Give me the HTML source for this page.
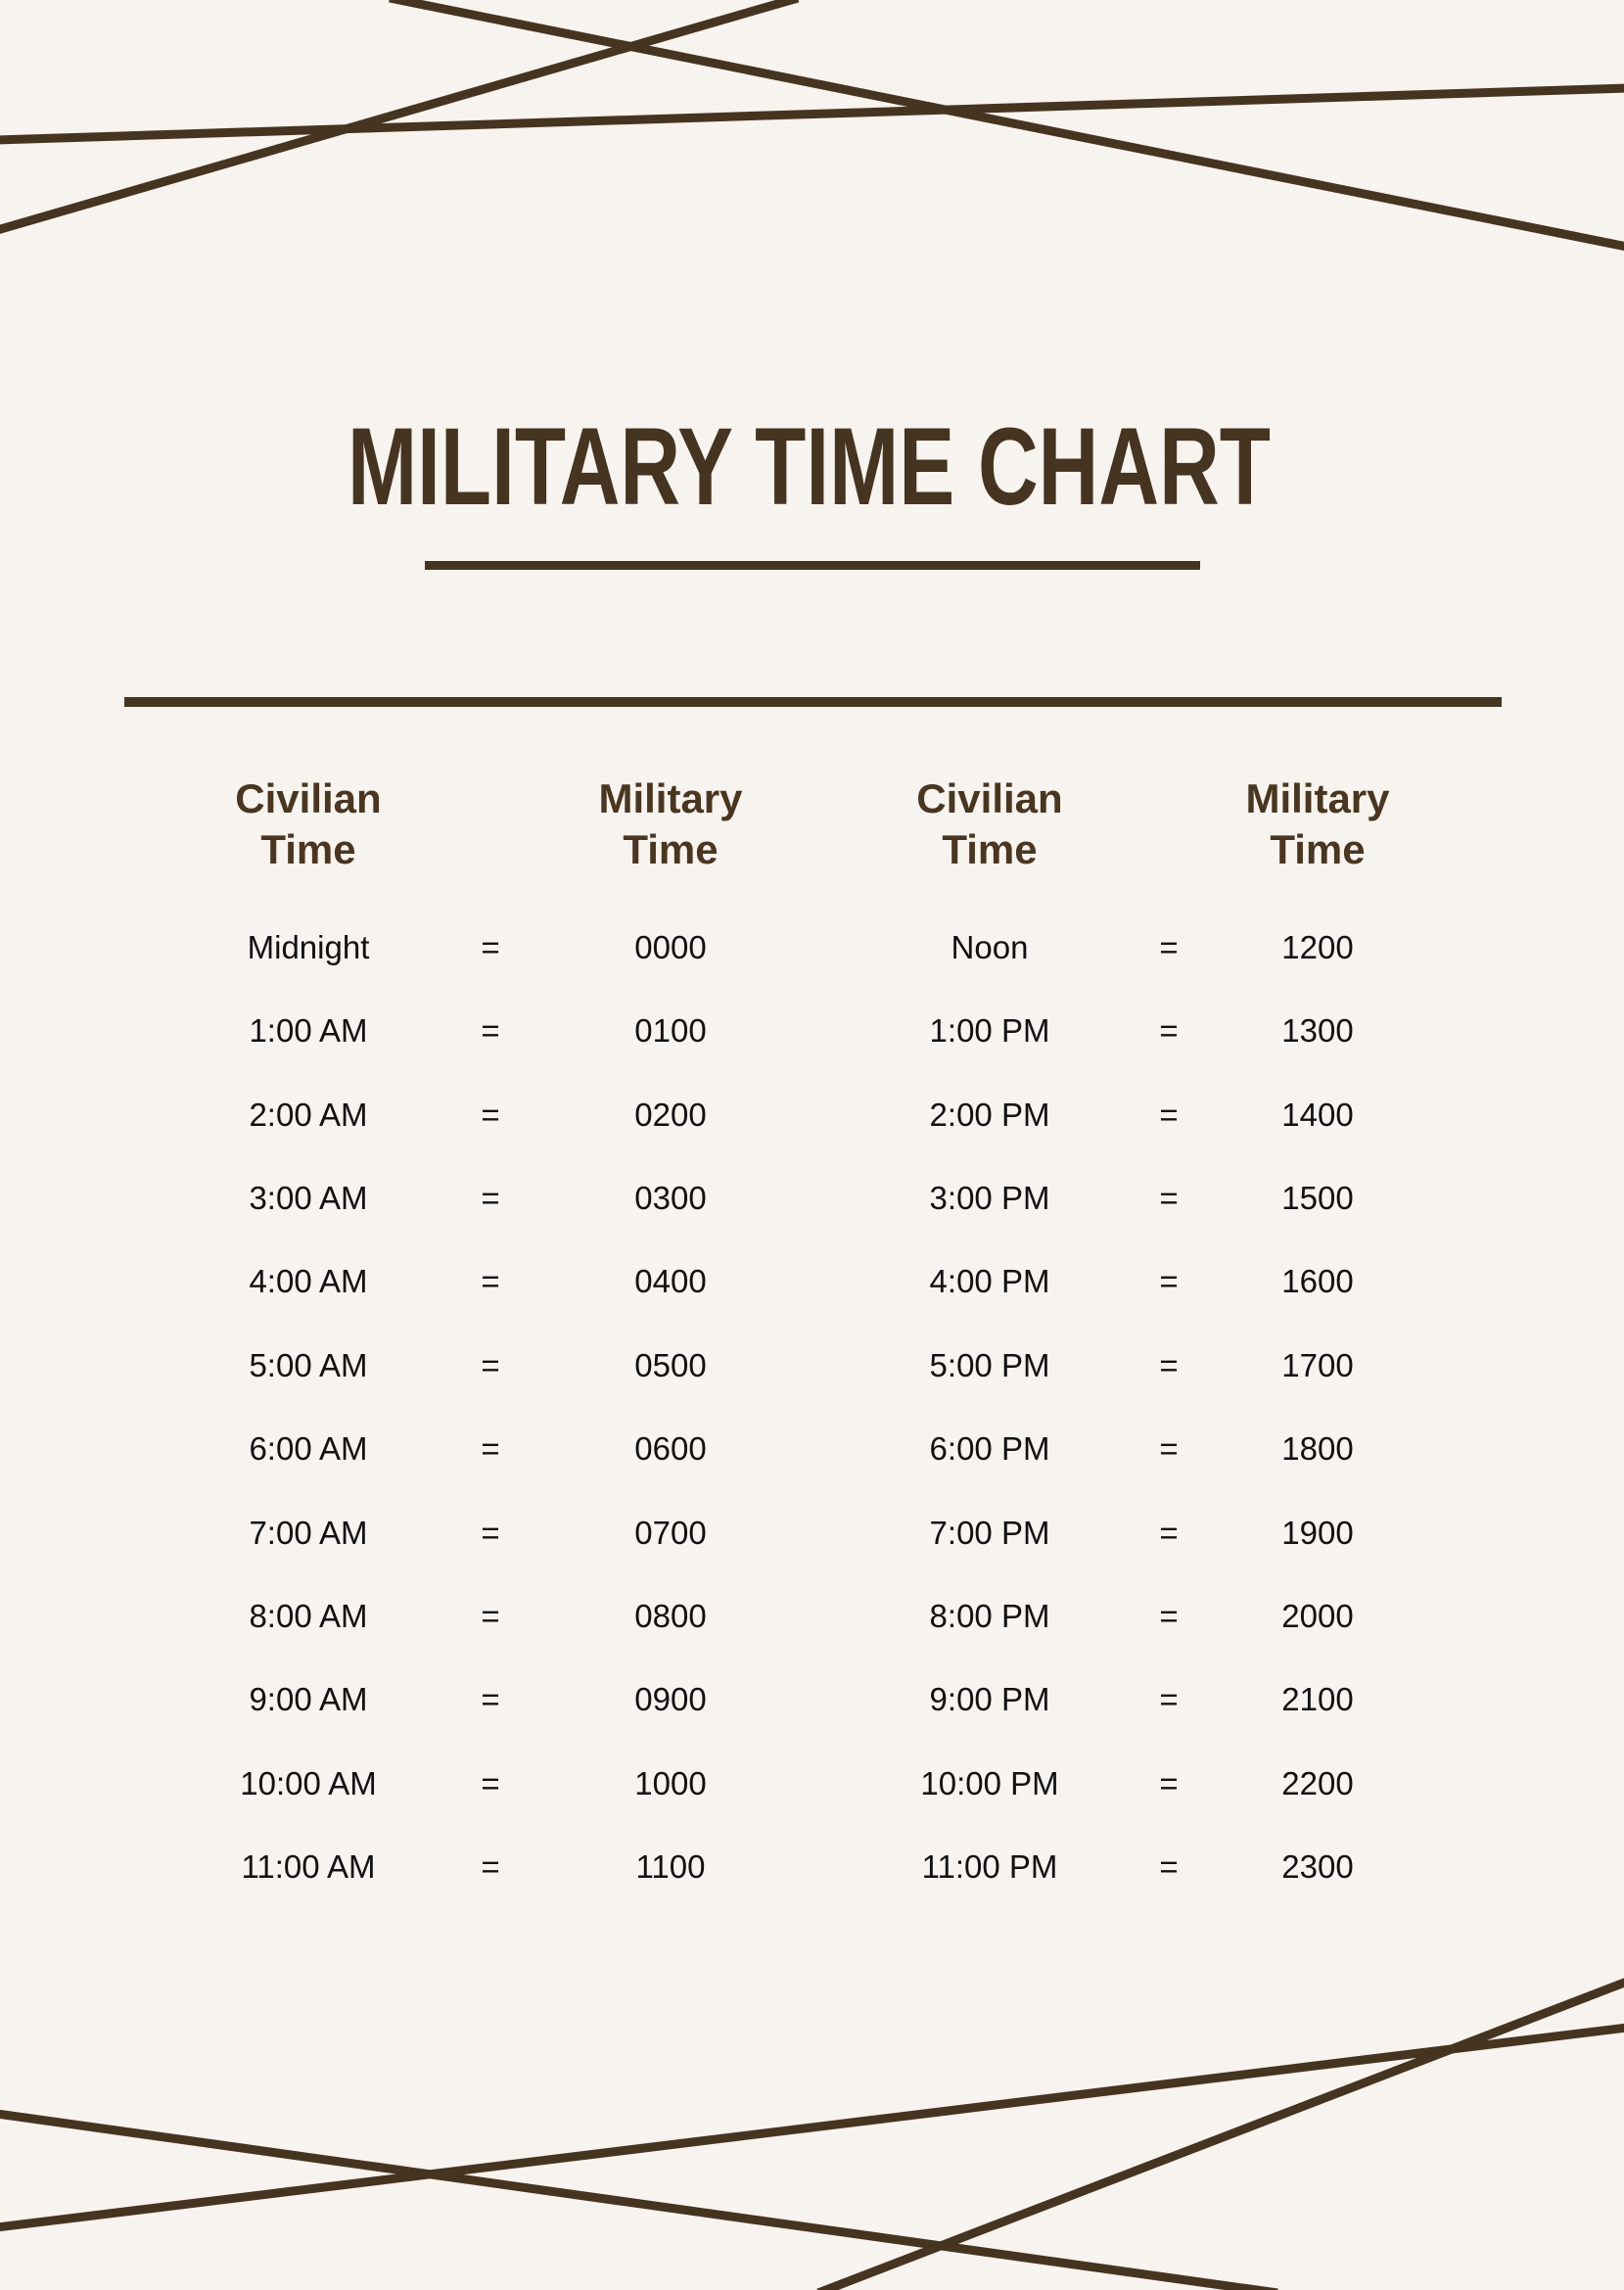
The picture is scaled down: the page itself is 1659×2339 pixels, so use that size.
<!DOCTYPE html>
<html><head><meta charset="utf-8"><style>
html,body{margin:0;padding:0;background:#f7f3ee;}
svg{display:block}
</style></head><body>
<svg width="1659" height="2339" viewBox="0 0 1659 2339" xmlns="http://www.w3.org/2000/svg">
<rect width="1659" height="2339" fill="#f7f3ee"/>
<g stroke="#45341f" stroke-width="9" fill="none">
<line x1="398" y1="-2" x2="1662" y2="252"/>
<line x1="-3" y1="235" x2="815" y2="-2"/>
<line x1="-3" y1="143" x2="1662" y2="90"/>
<line x1="-3" y1="2159" x2="1305" y2="2342"/>
<line x1="-3" y1="2275" x2="1662" y2="2071"/>
<line x1="836" y1="2342" x2="1662" y2="2024"/>
</g>
<rect x="434" y="573" width="792" height="9" fill="#45341f"/>
<rect x="127" y="712" width="1407" height="10" fill="#45341f"/>
<text x="355" y="515" font-family="Liberation Sans, sans-serif" font-weight="bold" font-size="112" fill="#45341f" textLength="943" lengthAdjust="spacingAndGlyphs">MILITARY TIME CHART</text>
<g font-family="Liberation Sans, sans-serif" font-weight="bold" font-size="42" fill="#4a3620" text-anchor="middle">
<text x="315" y="830">Civilian</text><text x="315" y="882">Time</text>
<text x="685" y="830">Military</text><text x="685" y="882">Time</text>
<text x="1011" y="830">Civilian</text><text x="1011" y="882">Time</text>
<text x="1346" y="830">Military</text><text x="1346" y="882">Time</text>
</g>
<g font-family="Liberation Sans, sans-serif" font-size="33" fill="#111" text-anchor="middle">
<text x="315" y="979">Midnight</text><text x="501" y="979">=</text><text x="685" y="979">0000</text><text x="1011" y="979">Noon</text><text x="1194" y="979">=</text><text x="1346" y="979">1200</text>
<text x="315" y="1064">1:00 AM</text><text x="501" y="1064">=</text><text x="685" y="1064">0100</text><text x="1011" y="1064">1:00 PM</text><text x="1194" y="1064">=</text><text x="1346" y="1064">1300</text>
<text x="315" y="1150">2:00 AM</text><text x="501" y="1150">=</text><text x="685" y="1150">0200</text><text x="1011" y="1150">2:00 PM</text><text x="1194" y="1150">=</text><text x="1346" y="1150">1400</text>
<text x="315" y="1235">3:00 AM</text><text x="501" y="1235">=</text><text x="685" y="1235">0300</text><text x="1011" y="1235">3:00 PM</text><text x="1194" y="1235">=</text><text x="1346" y="1235">1500</text>
<text x="315" y="1320">4:00 AM</text><text x="501" y="1320">=</text><text x="685" y="1320">0400</text><text x="1011" y="1320">4:00 PM</text><text x="1194" y="1320">=</text><text x="1346" y="1320">1600</text>
<text x="315" y="1406">5:00 AM</text><text x="501" y="1406">=</text><text x="685" y="1406">0500</text><text x="1011" y="1406">5:00 PM</text><text x="1194" y="1406">=</text><text x="1346" y="1406">1700</text>
<text x="315" y="1491">6:00 AM</text><text x="501" y="1491">=</text><text x="685" y="1491">0600</text><text x="1011" y="1491">6:00 PM</text><text x="1194" y="1491">=</text><text x="1346" y="1491">1800</text>
<text x="315" y="1577">7:00 AM</text><text x="501" y="1577">=</text><text x="685" y="1577">0700</text><text x="1011" y="1577">7:00 PM</text><text x="1194" y="1577">=</text><text x="1346" y="1577">1900</text>
<text x="315" y="1662">8:00 AM</text><text x="501" y="1662">=</text><text x="685" y="1662">0800</text><text x="1011" y="1662">8:00 PM</text><text x="1194" y="1662">=</text><text x="1346" y="1662">2000</text>
<text x="315" y="1747">9:00 AM</text><text x="501" y="1747">=</text><text x="685" y="1747">0900</text><text x="1011" y="1747">9:00 PM</text><text x="1194" y="1747">=</text><text x="1346" y="1747">2100</text>
<text x="315" y="1833">10:00 AM</text><text x="501" y="1833">=</text><text x="685" y="1833">1000</text><text x="1011" y="1833">10:00 PM</text><text x="1194" y="1833">=</text><text x="1346" y="1833">2200</text>
<text x="315" y="1918">11:00 AM</text><text x="501" y="1918">=</text><text x="685" y="1918">1100</text><text x="1011" y="1918">11:00 PM</text><text x="1194" y="1918">=</text><text x="1346" y="1918">2300</text>
</g>
</svg>
</body></html>
